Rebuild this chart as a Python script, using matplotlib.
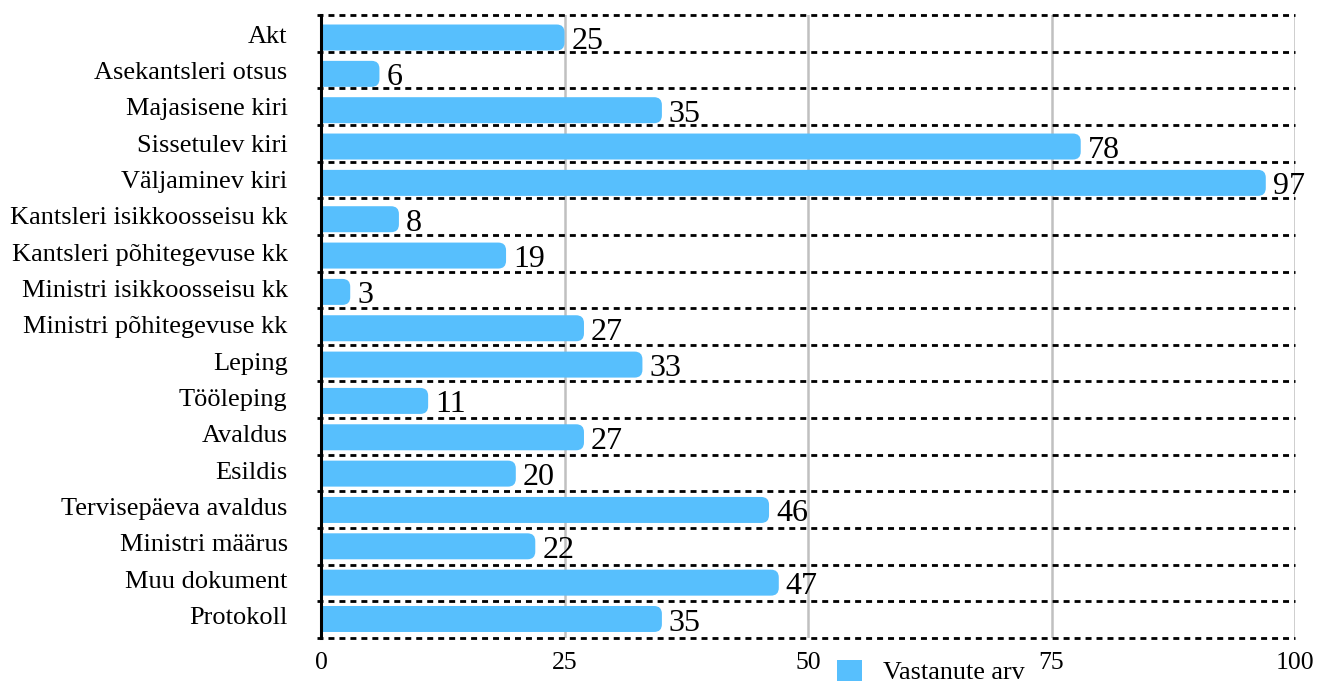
import numpy as np
import matplotlib
matplotlib.use("Agg")
import matplotlib.pyplot as plt
from matplotlib.patches import FancyBboxPatch, Patch
from matplotlib.transforms import ScaledTranslation

plt.rcParams['font.family'] = ['Liberation Serif', 'DejaVu Serif']

# data
categories = ['Akt', 'Asekantsleri otsus', 'Majasisene kiri', 'Sissetulev kiri',
              'Väljaminev kiri', 'Kantsleri isikkoosseisu kk',
              'Kantsleri põhitegevuse kk', 'Ministri isikkoosseisu kk',
              'Ministri põhitegevuse kk', 'Leping', 'Tööleping', 'Avaldus',
              'Esildis', 'Tervisepäeva avaldus', 'Ministri määrus',
              'Muu dokument', 'Protokoll']
values = [25, 6, 35, 78, 97, 8, 19, 3, 27, 33, 11, 27, 20, 46, 22, 47, 35]
xticks = [0, 25, 50, 75, 100]
series_name = 'Vastanute arv'

bar_color = '#57BFFD'
bar_h = 0.715

fig = plt.figure(figsize=(13.28, 6.86), dpi=100)
ax = fig.add_axes([321 / 1328, 1 - 638 / 686, 974 / 1328, 623 / 686])

ax.set_xlim(0, 100)
ax.set_ylim(16.523, -0.619)

# rounded bars (flat on the left, clipped at the axis)
for i, v in enumerate(values):
    p = FancyBboxPatch((-1, i - bar_h / 2), v + 1, bar_h,
                       boxstyle="round,pad=0,rounding_size=0.8",
                       mutation_aspect=0.268, facecolor=bar_color,
                       edgecolor='none', zorder=3)
    ax.add_patch(p)
    ax.annotate(str(v), (v, i), xytext=(5.0, -8.3), textcoords='offset points',
                va='baseline', ha='left', fontsize=23, color='black',
                zorder=4)

# dashed separators
for f in np.linspace(0, 1, 18):
    ax.plot([-0.004, 1], [f, f], transform=ax.transAxes, color='black',
            lw=2, linestyle=(0, (2.15, 1.8)), clip_on=False, zorder=2)

# vertical grid
ax.set_xticks(xticks)
for x in xticks[1:]:
    ax.axvline(x, color='#c0c0c0', lw=1.8, zorder=1)

for s in ['top', 'right', 'bottom']:
    ax.spines[s].set_visible(False)
ax.spines['left'].set_linewidth(2.2)
ax.spines['left'].set_zorder(5)

ax.set_yticks(range(len(categories)))
ax.set_yticklabels(categories, fontsize=19)
ax.tick_params(axis='y', length=0, pad=24)
ax.tick_params(axis='x', length=0, pad=10, labelsize=18.5)
for lab in ax.get_yticklabels():
    lab.set_transform(lab.get_transform() + ScaledTranslation(0, 2.5 / 72, fig.dpi_scale_trans))

fig.legend(handles=[Patch(facecolor=bar_color, edgecolor='none')],
           labels=[series_name], loc='upper left',
           bbox_to_anchor=(837 / 1328, 1 - 660 / 686), frameon=False,
           fontsize=18.8, handlelength=0.96, handleheight=0.85,
           handletextpad=0.8, borderpad=0, borderaxespad=0)

fig.savefig('out.png', dpi=100)
